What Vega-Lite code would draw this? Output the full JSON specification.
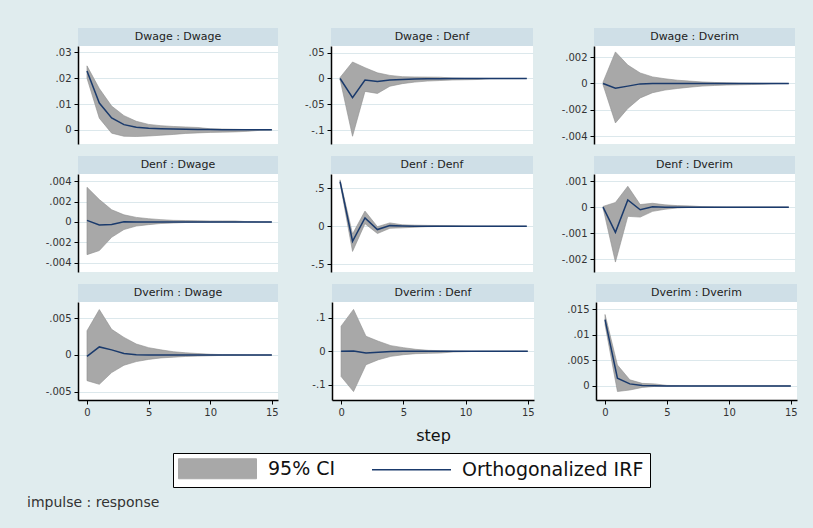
{
  "$schema": "https://vega.github.io/schema/vega-lite/v6.json",
  "background": "#e0ecee",
  "padding": {"left": 27, "top": 28, "right": 18, "bottom": 20},
  "title": {"text": "impulse : response", "orient": "bottom", "anchor": "start", "fontSize": 14, "font": "DejaVu Sans", "fontWeight": "normal", "color": "#333333", "offset": 8, "dx": -7},
  "data": {"values": [
    {"panel": 1, "step": 0, "irf": 0.0228, "lo": 0.0200, "hi": 0.0248},
    {"panel": 1, "step": 1, "irf": 0.0104, "lo": 0.0045, "hi": 0.0160},
    {"panel": 1, "step": 2, "irf": 0.0046, "lo": -0.0013, "hi": 0.0092},
    {"panel": 1, "step": 3, "irf": 0.0020, "lo": -0.0025, "hi": 0.0055},
    {"panel": 1, "step": 4, "irf": 0.0010, "lo": -0.0026, "hi": 0.0033},
    {"panel": 1, "step": 5, "irf": 0.0006, "lo": -0.0024, "hi": 0.0021},
    {"panel": 1, "step": 6, "irf": 0.0004, "lo": -0.0021, "hi": 0.0016},
    {"panel": 1, "step": 7, "irf": 0.0003, "lo": -0.0018, "hi": 0.0013},
    {"panel": 1, "step": 8, "irf": 0.0002, "lo": -0.0014, "hi": 0.0011},
    {"panel": 1, "step": 9, "irf": 0.0001, "lo": -0.0012, "hi": 0.0009},
    {"panel": 1, "step": 10, "irf": 0.0001, "lo": -0.0010, "hi": 0.0004},
    {"panel": 1, "step": 11, "irf": 0.00005, "lo": -0.0009, "hi": 0.0003},
    {"panel": 1, "step": 12, "irf": 0.00003, "lo": -0.0008, "hi": 0.0002},
    {"panel": 1, "step": 13, "irf": 0.00002, "lo": -0.0006, "hi": 0.0001},
    {"panel": 1, "step": 14, "irf": 0.00001, "lo": -0.0002, "hi": 0.0001},
    {"panel": 1, "step": 15, "irf": 0.00001, "lo": -0.0001, "hi": 0.00005},

    {"panel": 2, "step": 0, "irf": 0, "lo": -0.002, "hi": 0.002},
    {"panel": 2, "step": 1, "irf": -0.037, "lo": -0.112, "hi": 0.032},
    {"panel": 2, "step": 2, "irf": -0.003, "lo": -0.025, "hi": 0.021},
    {"panel": 2, "step": 3, "irf": -0.006, "lo": -0.029, "hi": 0.011},
    {"panel": 2, "step": 4, "irf": -0.003, "lo": -0.015, "hi": 0.006},
    {"panel": 2, "step": 5, "irf": -0.002, "lo": -0.010, "hi": 0.0035},
    {"panel": 2, "step": 6, "irf": -0.001, "lo": -0.007, "hi": 0.003},
    {"panel": 2, "step": 7, "irf": -0.0005, "lo": -0.005, "hi": 0.0027},
    {"panel": 2, "step": 8, "irf": -0.0003, "lo": -0.004, "hi": 0.0025},
    {"panel": 2, "step": 9, "irf": -0.0002, "lo": -0.003, "hi": 0.001},
    {"panel": 2, "step": 10, "irf": -0.0001, "lo": -0.0025, "hi": 0.0005},
    {"panel": 2, "step": 11, "irf": 0, "lo": -0.002, "hi": 0.0003},
    {"panel": 2, "step": 12, "irf": 0, "lo": -0.0005, "hi": 0.0002},
    {"panel": 2, "step": 13, "irf": 0, "lo": -0.0003, "hi": 0.0001},
    {"panel": 2, "step": 14, "irf": 0, "lo": -0.0002, "hi": 0.0001},
    {"panel": 2, "step": 15, "irf": 0, "lo": -0.0001, "hi": 0.0001},

    {"panel": 3, "step": 0, "irf": 0, "lo": -0.0001, "hi": 0.0001},
    {"panel": 3, "step": 1, "irf": -0.00036, "lo": -0.0030, "hi": 0.0024},
    {"panel": 3, "step": 2, "irf": -0.0002, "lo": -0.0019, "hi": 0.0014},
    {"panel": 3, "step": 3, "irf": -0.00003, "lo": -0.0011, "hi": 0.0008},
    {"panel": 3, "step": 4, "irf": 0, "lo": -0.0007, "hi": 0.0005},
    {"panel": 3, "step": 5, "irf": 0, "lo": -0.0005, "hi": 0.00036},
    {"panel": 3, "step": 6, "irf": 0, "lo": -0.00038, "hi": 0.00025},
    {"panel": 3, "step": 7, "irf": 0, "lo": -0.00028, "hi": 0.00018},
    {"panel": 3, "step": 8, "irf": 0, "lo": -0.0002, "hi": 0.00012},
    {"panel": 3, "step": 9, "irf": 0, "lo": -0.00015, "hi": 0.00008},
    {"panel": 3, "step": 10, "irf": 0, "lo": -0.00012, "hi": 0.00005},
    {"panel": 3, "step": 11, "irf": 0, "lo": -0.0001, "hi": 0.00003},
    {"panel": 3, "step": 12, "irf": 0, "lo": -0.00008, "hi": 0.00002},
    {"panel": 3, "step": 13, "irf": 0, "lo": -0.00005, "hi": 0.00001},
    {"panel": 3, "step": 14, "irf": 0, "lo": -0.00002, "hi": 0.00001},
    {"panel": 3, "step": 15, "irf": 0, "lo": -0.00001, "hi": 0},

    {"panel": 4, "step": 0, "irf": 0.00016, "lo": -0.0032, "hi": 0.0034},
    {"panel": 4, "step": 1, "irf": -0.0003, "lo": -0.0028, "hi": 0.0022},
    {"panel": 4, "step": 2, "irf": -0.00025, "lo": -0.0015, "hi": 0.0012},
    {"panel": 4, "step": 3, "irf": 0.00002, "lo": -0.00074, "hi": 0.0007},
    {"panel": 4, "step": 4, "irf": 0, "lo": -0.0004, "hi": 0.00045},
    {"panel": 4, "step": 5, "irf": 0, "lo": -0.00026, "hi": 0.00032},
    {"panel": 4, "step": 6, "irf": 0, "lo": -0.00015, "hi": 0.00023},
    {"panel": 4, "step": 7, "irf": 0, "lo": -0.0001, "hi": 0.00016},
    {"panel": 4, "step": 8, "irf": 0, "lo": -0.00005, "hi": 0.00014},
    {"panel": 4, "step": 9, "irf": 0, "lo": -0.00003, "hi": 0.00012},
    {"panel": 4, "step": 10, "irf": 0, "lo": -0.00002, "hi": 0.0001},
    {"panel": 4, "step": 11, "irf": 0, "lo": -0.00001, "hi": 0.0001},
    {"panel": 4, "step": 12, "irf": 0, "lo": 0, "hi": 0.0001},
    {"panel": 4, "step": 13, "irf": 0, "lo": 0, "hi": 0.00003},
    {"panel": 4, "step": 14, "irf": 0, "lo": 0, "hi": 0.00001},
    {"panel": 4, "step": 15, "irf": 0, "lo": 0, "hi": 0},

    {"panel": 5, "step": 0, "irf": 0.587, "lo": 0.565, "hi": 0.61},
    {"panel": 5, "step": 1, "irf": -0.196, "lo": -0.33, "hi": -0.10},
    {"panel": 5, "step": 2, "irf": 0.109, "lo": 0.035, "hi": 0.20},
    {"panel": 5, "step": 3, "irf": -0.043, "lo": -0.095, "hi": -0.005},
    {"panel": 5, "step": 4, "irf": 0.009, "lo": -0.026, "hi": 0.045},
    {"panel": 5, "step": 5, "irf": 0.004, "lo": -0.02, "hi": 0.02},
    {"panel": 5, "step": 6, "irf": 0.001, "lo": -0.012, "hi": 0.015},
    {"panel": 5, "step": 7, "irf": 0, "lo": -0.005, "hi": 0.012},
    {"panel": 5, "step": 8, "irf": 0, "lo": -0.002, "hi": 0.01},
    {"panel": 5, "step": 9, "irf": 0, "lo": -0.001, "hi": 0.008},
    {"panel": 5, "step": 10, "irf": 0, "lo": 0, "hi": 0.003},
    {"panel": 5, "step": 11, "irf": 0, "lo": 0, "hi": 0.001},
    {"panel": 5, "step": 12, "irf": 0, "lo": 0, "hi": 0.0005},
    {"panel": 5, "step": 13, "irf": 0, "lo": 0, "hi": 0.0002},
    {"panel": 5, "step": 14, "irf": 0, "lo": 0, "hi": 0.0001},
    {"panel": 5, "step": 15, "irf": 0, "lo": 0, "hi": 0},

    {"panel": 6, "step": 0, "irf": 0, "lo": -0.00003, "hi": 0.00003},
    {"panel": 6, "step": 1, "irf": -0.00096, "lo": -0.0021, "hi": 0.00018},
    {"panel": 6, "step": 2, "irf": 0.00028, "lo": -0.00035, "hi": 0.0008},
    {"panel": 6, "step": 3, "irf": -0.0001, "lo": -0.00038, "hi": 0.0001},
    {"panel": 6, "step": 4, "irf": 0.00002, "lo": -0.00016, "hi": 0.00015},
    {"panel": 6, "step": 5, "irf": 0, "lo": -0.00008, "hi": 0.00009},
    {"panel": 6, "step": 6, "irf": 0, "lo": -0.00003, "hi": 0.00006},
    {"panel": 6, "step": 7, "irf": 0, "lo": -0.00001, "hi": 0.00005},
    {"panel": 6, "step": 8, "irf": 0, "lo": 0, "hi": 0.00002},
    {"panel": 6, "step": 9, "irf": 0, "lo": 0, "hi": 0.00001},
    {"panel": 6, "step": 10, "irf": 0, "lo": 0, "hi": 0},
    {"panel": 6, "step": 11, "irf": 0, "lo": 0, "hi": 0},
    {"panel": 6, "step": 12, "irf": 0, "lo": 0, "hi": 0},
    {"panel": 6, "step": 13, "irf": 0, "lo": 0, "hi": 0},
    {"panel": 6, "step": 14, "irf": 0, "lo": 0, "hi": 0},
    {"panel": 6, "step": 15, "irf": 0, "lo": 0, "hi": 0},

    {"panel": 7, "step": 0, "irf": -0.0002, "lo": -0.0035, "hi": 0.0033},
    {"panel": 7, "step": 1, "irf": 0.0011, "lo": -0.0040, "hi": 0.0062},
    {"panel": 7, "step": 2, "irf": 0.0007, "lo": -0.0024, "hi": 0.0035},
    {"panel": 7, "step": 3, "irf": 0.0002, "lo": -0.0014, "hi": 0.0024},
    {"panel": 7, "step": 4, "irf": 0.00005, "lo": -0.0009, "hi": 0.0015},
    {"panel": 7, "step": 5, "irf": 0, "lo": -0.0006, "hi": 0.0010},
    {"panel": 7, "step": 6, "irf": 0, "lo": -0.0004, "hi": 0.0007},
    {"panel": 7, "step": 7, "irf": 0, "lo": -0.0003, "hi": 0.00045},
    {"panel": 7, "step": 8, "irf": 0, "lo": -0.0002, "hi": 0.0003},
    {"panel": 7, "step": 9, "irf": 0, "lo": -0.00015, "hi": 0.0002},
    {"panel": 7, "step": 10, "irf": 0, "lo": -0.0001, "hi": 0.0001},
    {"panel": 7, "step": 11, "irf": 0, "lo": -0.00005, "hi": 0.00005},
    {"panel": 7, "step": 12, "irf": 0, "lo": -0.00002, "hi": 0.00003},
    {"panel": 7, "step": 13, "irf": 0, "lo": -0.00001, "hi": 0.00001},
    {"panel": 7, "step": 14, "irf": 0, "lo": 0, "hi": 0},
    {"panel": 7, "step": 15, "irf": 0, "lo": 0, "hi": 0},

    {"panel": 8, "step": 0, "irf": 0, "lo": -0.075, "hi": 0.075},
    {"panel": 8, "step": 1, "irf": 0.001, "lo": -0.12, "hi": 0.125},
    {"panel": 8, "step": 2, "irf": -0.005, "lo": -0.04, "hi": 0.045},
    {"panel": 8, "step": 3, "irf": -0.003, "lo": -0.025, "hi": 0.03},
    {"panel": 8, "step": 4, "irf": -0.0005, "lo": -0.015, "hi": 0.017},
    {"panel": 8, "step": 5, "irf": 0, "lo": -0.010, "hi": 0.011},
    {"panel": 8, "step": 6, "irf": 0, "lo": -0.007, "hi": 0.006},
    {"panel": 8, "step": 7, "irf": 0, "lo": -0.006, "hi": 0.003},
    {"panel": 8, "step": 8, "irf": 0, "lo": -0.005, "hi": 0.002},
    {"panel": 8, "step": 9, "irf": 0, "lo": -0.002, "hi": 0.001},
    {"panel": 8, "step": 10, "irf": 0, "lo": -0.001, "hi": 0.0005},
    {"panel": 8, "step": 11, "irf": 0, "lo": 0, "hi": 0},
    {"panel": 8, "step": 12, "irf": 0, "lo": 0, "hi": 0},
    {"panel": 8, "step": 13, "irf": 0, "lo": 0, "hi": 0},
    {"panel": 8, "step": 14, "irf": 0, "lo": 0, "hi": 0},
    {"panel": 8, "step": 15, "irf": 0, "lo": 0, "hi": 0},

    {"panel": 9, "step": 0, "irf": 0.013, "lo": 0.012, "hi": 0.014},
    {"panel": 9, "step": 1, "irf": 0.0015, "lo": -0.0011, "hi": 0.0041},
    {"panel": 9, "step": 2, "irf": 0.0004, "lo": -0.0008, "hi": 0.0012},
    {"panel": 9, "step": 3, "irf": 0.0001, "lo": -0.0003, "hi": 0.0005},
    {"panel": 9, "step": 4, "irf": 0.00003, "lo": -0.0001, "hi": 0.0004},
    {"panel": 9, "step": 5, "irf": 0, "lo": -0.00005, "hi": 0.0001},
    {"panel": 9, "step": 6, "irf": 0, "lo": 0, "hi": 0.00005},
    {"panel": 9, "step": 7, "irf": 0, "lo": 0, "hi": 0},
    {"panel": 9, "step": 8, "irf": 0, "lo": 0, "hi": 0},
    {"panel": 9, "step": 9, "irf": 0, "lo": 0, "hi": 0},
    {"panel": 9, "step": 10, "irf": 0, "lo": 0, "hi": 0},
    {"panel": 9, "step": 11, "irf": 0, "lo": 0, "hi": 0},
    {"panel": 9, "step": 12, "irf": 0, "lo": 0, "hi": 0},
    {"panel": 9, "step": 13, "irf": 0, "lo": 0, "hi": 0},
    {"panel": 9, "step": 14, "irf": 0, "lo": 0, "hi": 0},
    {"panel": 9, "step": 15, "irf": 0, "lo": 0, "hi": 0}
  ]},
  "spacing": 12,
  "vconcat": [
    {"spacing": 20, "hconcat": [
      {"spacing": 0, "bounds": "flush", "vconcat": [
        {"width": 200, "height": 18, "view": {"fill": "#cfdfe7", "stroke": null}, "data": {"values": [{"label": "Dwage : Dwage"}]}, "mark": {"type": "text", "fontSize": 11, "font": "DejaVu Sans", "color": "#222222"}, "encoding": {"text": {"field": "label"}}},
        {"width": 200, "height": 98, "transform": [{"filter": "datum.panel === 1"}],
         "encoding": {"x": {"field": "step", "type": "quantitative", "scale": {"domain": [-0.73, 15.5], "nice": false, "zero": false}, "axis": null}},
         "layer": [
          {"mark": {"type": "area", "opacity": 1, "stroke": "#8f8f8f", "strokeWidth": 0.6},
           "encoding": {"y": {"field": "lo", "type": "quantitative", "scale": {"domain": [-0.0055, 0.0325], "nice": false, "zero": false}, "axis": {"values": [0, 0.01, 0.02, 0.03], "title": null, "minExtent": 44, "maxExtent": 44, "labelExpr": "replace(replace(format(datum.value, '~g'), '−', '-'), '0.', '.')"}}, "y2": {"field": "hi"},
            "color": {"datum": "95% CI", "scale": {"domain": ["95% CI", "Orthogonalized IRF"], "range": ["#a8a8a8", "#1a3a6c"]},
              "legend": {"title": null, "orient": "none", "legendX": 95, "legendY": 425, "direction": "horizontal", "symbolSize": 400,
                "symbolType": {"expr": "datum.value === '95% CI' ? 'M-3.9,-1H3.9V1H-3.9Z' : 'M-3.95,0H3.95'"},
                "symbolStrokeColor": {"expr": "datum.value === '95% CI' ? '#999999' : '#1a3a6c'"},
                "symbolStrokeWidth": {"expr": "datum.value === '95% CI' ? 1 : 1.5"},
                "symbolOffset": 29, "labelOffset": 41, "labelFontSize": 19, "labelFont": "DejaVu Sans", "labelColor": "#111111", "labelLimit": 400, "columnPadding": 33, "padding": 6, "fillColor": "white", "strokeColor": "black", "symbolOpacity": 1}}}},
          {"mark": {"type": "line", "strokeWidth": 1.5},
           "encoding": {"y": {"field": "irf", "type": "quantitative", "scale": {"domain": [-0.0055, 0.0325], "nice": false, "zero": false}, "axis": {"values": [0, 0.01, 0.02, 0.03], "title": null, "minExtent": 44, "maxExtent": 44, "labelExpr": "replace(replace(format(datum.value, '~g'), '−', '-'), '0.', '.')"}}, "color": {"datum": "Orthogonalized IRF"}}}
         ]}
      ]},
      {"spacing": 0, "bounds": "flush", "vconcat": [
        {"width": 202, "height": 18, "view": {"fill": "#cfdfe7", "stroke": null}, "data": {"values": [{"label": "Dwage : Denf"}]}, "mark": {"type": "text", "fontSize": 11, "font": "DejaVu Sans", "color": "#222222"}, "encoding": {"text": {"field": "label"}}},
        {"width": 202, "height": 98, "transform": [{"filter": "datum.panel === 2"}],
         "encoding": {"x": {"field": "step", "type": "quantitative", "scale": {"domain": [-0.73, 15.5], "nice": false, "zero": false}, "axis": null}},
         "layer": [
          {"mark": {"type": "area", "opacity": 1, "stroke": "#8f8f8f", "strokeWidth": 0.6},
           "encoding": {"y": {"field": "lo", "type": "quantitative", "scale": {"domain": [-0.127, 0.063], "nice": false, "zero": false}, "axis": {"values": [-0.1, -0.05, 0, 0.05], "title": null, "minExtent": 33, "maxExtent": 33, "labelExpr": "replace(replace(format(datum.value, '~g'), '−', '-'), '0.', '.')"}}, "y2": {"field": "hi"}, "color": {"datum": "95% CI"}}},
          {"mark": {"type": "line", "strokeWidth": 1.5},
           "encoding": {"y": {"field": "irf", "type": "quantitative", "scale": {"domain": [-0.127, 0.063], "nice": false, "zero": false}, "axis": {"values": [-0.1, -0.05, 0, 0.05], "title": null, "minExtent": 33, "maxExtent": 33, "labelExpr": "replace(replace(format(datum.value, '~g'), '−', '-'), '0.', '.')"}}, "color": {"datum": "Orthogonalized IRF"}}}
         ]}
      ]},
      {"spacing": 0, "bounds": "flush", "vconcat": [
        {"width": 201, "height": 18, "view": {"fill": "#cfdfe7", "stroke": null}, "data": {"values": [{"label": "Dwage : Dverim"}]}, "mark": {"type": "text", "fontSize": 11, "font": "DejaVu Sans", "color": "#222222"}, "encoding": {"text": {"field": "label"}}},
        {"width": 201, "height": 98, "transform": [{"filter": "datum.panel === 3"}],
         "encoding": {"x": {"field": "step", "type": "quantitative", "scale": {"domain": [-0.73, 15.5], "nice": false, "zero": false}, "axis": null}},
         "layer": [
          {"mark": {"type": "area", "opacity": 1, "stroke": "#8f8f8f", "strokeWidth": 0.6},
           "encoding": {"y": {"field": "lo", "type": "quantitative", "scale": {"domain": [-0.0046, 0.00285], "nice": false, "zero": false}, "axis": {"values": [-0.004, -0.002, 0, 0.002], "title": null, "minExtent": 41, "maxExtent": 41, "labelExpr": "replace(replace(format(datum.value, '~g'), '−', '-'), '0.', '.')"}}, "y2": {"field": "hi"}, "color": {"datum": "95% CI"}}},
          {"mark": {"type": "line", "strokeWidth": 1.5},
           "encoding": {"y": {"field": "irf", "type": "quantitative", "scale": {"domain": [-0.0046, 0.00285], "nice": false, "zero": false}, "axis": {"values": [-0.004, -0.002, 0, 0.002], "title": null, "minExtent": 41, "maxExtent": 41, "labelExpr": "replace(replace(format(datum.value, '~g'), '−', '-'), '0.', '.')"}}, "color": {"datum": "Orthogonalized IRF"}}}
         ]}
      ]}
    ]},
    {"spacing": 20, "hconcat": [
      {"spacing": 0, "bounds": "flush", "vconcat": [
        {"width": 200, "height": 18, "view": {"fill": "#cfdfe7", "stroke": null}, "data": {"values": [{"label": "Denf : Dwage"}]}, "mark": {"type": "text", "fontSize": 11, "font": "DejaVu Sans", "color": "#222222"}, "encoding": {"text": {"field": "label"}}},
        {"width": 200, "height": 98, "transform": [{"filter": "datum.panel === 4"}],
         "encoding": {"x": {"field": "step", "type": "quantitative", "scale": {"domain": [-0.73, 15.5], "nice": false, "zero": false}, "axis": null}},
         "layer": [
          {"mark": {"type": "area", "opacity": 1, "stroke": "#8f8f8f", "strokeWidth": 0.6},
           "encoding": {"y": {"field": "lo", "type": "quantitative", "scale": {"domain": [-0.0049, 0.0047], "nice": false, "zero": false}, "axis": {"values": [-0.004, -0.002, 0, 0.002, 0.004], "title": null, "minExtent": 44, "maxExtent": 44, "labelExpr": "replace(replace(format(datum.value, '~g'), '−', '-'), '0.', '.')"}}, "y2": {"field": "hi"}, "color": {"datum": "95% CI"}}},
          {"mark": {"type": "line", "strokeWidth": 1.5},
           "encoding": {"y": {"field": "irf", "type": "quantitative", "scale": {"domain": [-0.0049, 0.0047], "nice": false, "zero": false}, "axis": {"values": [-0.004, -0.002, 0, 0.002, 0.004], "title": null, "minExtent": 44, "maxExtent": 44, "labelExpr": "replace(replace(format(datum.value, '~g'), '−', '-'), '0.', '.')"}}, "color": {"datum": "Orthogonalized IRF"}}}
         ]}
      ]},
      {"spacing": 0, "bounds": "flush", "vconcat": [
        {"width": 202, "height": 18, "view": {"fill": "#cfdfe7", "stroke": null}, "data": {"values": [{"label": "Denf : Denf"}]}, "mark": {"type": "text", "fontSize": 11, "font": "DejaVu Sans", "color": "#222222"}, "encoding": {"text": {"field": "label"}}},
        {"width": 202, "height": 98, "transform": [{"filter": "datum.panel === 5"}],
         "encoding": {"x": {"field": "step", "type": "quantitative", "scale": {"domain": [-0.73, 15.5], "nice": false, "zero": false}, "axis": null}},
         "layer": [
          {"mark": {"type": "area", "opacity": 1, "stroke": "#8f8f8f", "strokeWidth": 0.6},
           "encoding": {"y": {"field": "lo", "type": "quantitative", "scale": {"domain": [-0.6, 0.687], "nice": false, "zero": false}, "axis": {"values": [-0.5, 0, 0.5], "title": null, "minExtent": 33, "maxExtent": 33, "labelExpr": "replace(replace(format(datum.value, '~g'), '−', '-'), '0.', '.')"}}, "y2": {"field": "hi"}, "color": {"datum": "95% CI"}}},
          {"mark": {"type": "line", "strokeWidth": 1.5},
           "encoding": {"y": {"field": "irf", "type": "quantitative", "scale": {"domain": [-0.6, 0.687], "nice": false, "zero": false}, "axis": {"values": [-0.5, 0, 0.5], "title": null, "minExtent": 33, "maxExtent": 33, "labelExpr": "replace(replace(format(datum.value, '~g'), '−', '-'), '0.', '.')"}}, "color": {"datum": "Orthogonalized IRF"}}}
         ]}
      ]},
      {"spacing": 0, "bounds": "flush", "vconcat": [
        {"width": 201, "height": 18, "view": {"fill": "#cfdfe7", "stroke": null}, "data": {"values": [{"label": "Denf : Dverim"}]}, "mark": {"type": "text", "fontSize": 11, "font": "DejaVu Sans", "color": "#222222"}, "encoding": {"text": {"field": "label"}}},
        {"width": 201, "height": 98, "transform": [{"filter": "datum.panel === 6"}],
         "encoding": {"x": {"field": "step", "type": "quantitative", "scale": {"domain": [-0.73, 15.5], "nice": false, "zero": false}, "axis": null}},
         "layer": [
          {"mark": {"type": "area", "opacity": 1, "stroke": "#8f8f8f", "strokeWidth": 0.6},
           "encoding": {"y": {"field": "lo", "type": "quantitative", "scale": {"domain": [-0.00248, 0.00127], "nice": false, "zero": false}, "axis": {"values": [-0.002, -0.001, 0, 0.001], "title": null, "minExtent": 41, "maxExtent": 41, "labelExpr": "replace(replace(format(datum.value, '~g'), '−', '-'), '0.', '.')"}}, "y2": {"field": "hi"}, "color": {"datum": "95% CI"}}},
          {"mark": {"type": "line", "strokeWidth": 1.5},
           "encoding": {"y": {"field": "irf", "type": "quantitative", "scale": {"domain": [-0.00248, 0.00127], "nice": false, "zero": false}, "axis": {"values": [-0.002, -0.001, 0, 0.001], "title": null, "minExtent": 41, "maxExtent": 41, "labelExpr": "replace(replace(format(datum.value, '~g'), '−', '-'), '0.', '.')"}}, "color": {"datum": "Orthogonalized IRF"}}}
         ]}
      ]}
    ]},
    {"spacing": 20, "hconcat": [
      {"spacing": 0, "bounds": "flush", "vconcat": [
        {"width": 200, "height": 18, "view": {"fill": "#cfdfe7", "stroke": null}, "data": {"values": [{"label": "Dverim : Dwage"}]}, "mark": {"type": "text", "fontSize": 11, "font": "DejaVu Sans", "color": "#222222"}, "encoding": {"text": {"field": "label"}}},
        {"width": 200, "height": 98, "transform": [{"filter": "datum.panel === 7"}],
         "encoding": {"x": {"field": "step", "type": "quantitative", "scale": {"domain": [-0.73, 15.5], "nice": false, "zero": false}, "axis": {"values": [0, 5, 10, 15], "title": null, "grid": false, "labelFlush": false}}},
         "layer": [
          {"mark": {"type": "area", "opacity": 1, "stroke": "#8f8f8f", "strokeWidth": 0.6},
           "encoding": {"y": {"field": "lo", "type": "quantitative", "scale": {"domain": [-0.00614, 0.00723], "nice": false, "zero": false}, "axis": {"values": [-0.005, 0, 0.005], "title": null, "minExtent": 44, "maxExtent": 44, "labelExpr": "replace(replace(format(datum.value, '~g'), '−', '-'), '0.', '.')"}}, "y2": {"field": "hi"}, "color": {"datum": "95% CI"}}},
          {"mark": {"type": "line", "strokeWidth": 1.5},
           "encoding": {"y": {"field": "irf", "type": "quantitative", "scale": {"domain": [-0.00614, 0.00723], "nice": false, "zero": false}, "axis": {"values": [-0.005, 0, 0.005], "title": null, "minExtent": 44, "maxExtent": 44, "labelExpr": "replace(replace(format(datum.value, '~g'), '−', '-'), '0.', '.')"}}, "color": {"datum": "Orthogonalized IRF"}}}
         ]}
      ]},
      {"spacing": 0, "bounds": "flush", "vconcat": [
        {"width": 202, "height": 18, "view": {"fill": "#cfdfe7", "stroke": null}, "data": {"values": [{"label": "Dverim : Denf"}]}, "mark": {"type": "text", "fontSize": 11, "font": "DejaVu Sans", "color": "#222222"}, "encoding": {"text": {"field": "label"}}},
        {"width": 202, "height": 98, "transform": [{"filter": "datum.panel === 8"}],
         "encoding": {"x": {"field": "step", "type": "quantitative", "scale": {"domain": [-0.73, 15.5], "nice": false, "zero": false}, "axis": {"values": [0, 5, 10, 15], "title": "step", "grid": false, "labelFlush": false, "titleFontSize": 16, "titleFontWeight": "normal", "titleFont": "DejaVu Sans", "titleColor": "#111111", "titlePadding": 10}}},
         "layer": [
          {"mark": {"type": "area", "opacity": 1, "stroke": "#8f8f8f", "strokeWidth": 0.6},
           "encoding": {"y": {"field": "lo", "type": "quantitative", "scale": {"domain": [-0.145, 0.147], "nice": false, "zero": false}, "axis": {"values": [-0.1, 0, 0.1], "title": null, "minExtent": 33, "maxExtent": 33, "labelExpr": "replace(replace(format(datum.value, '~g'), '−', '-'), '0.', '.')"}}, "y2": {"field": "hi"}, "color": {"datum": "95% CI"}}},
          {"mark": {"type": "line", "strokeWidth": 1.5},
           "encoding": {"y": {"field": "irf", "type": "quantitative", "scale": {"domain": [-0.145, 0.147], "nice": false, "zero": false}, "axis": {"values": [-0.1, 0, 0.1], "title": null, "minExtent": 33, "maxExtent": 33, "labelExpr": "replace(replace(format(datum.value, '~g'), '−', '-'), '0.', '.')"}}, "color": {"datum": "Orthogonalized IRF"}}}
         ]}
      ]},
      {"spacing": 0, "bounds": "flush", "vconcat": [
        {"width": 201, "height": 18, "view": {"fill": "#cfdfe7", "stroke": null}, "data": {"values": [{"label": "Dverim : Dverim"}]}, "mark": {"type": "text", "fontSize": 11, "font": "DejaVu Sans", "color": "#222222"}, "encoding": {"text": {"field": "label"}}},
        {"width": 201, "height": 98, "transform": [{"filter": "datum.panel === 9"}],
         "encoding": {"x": {"field": "step", "type": "quantitative", "scale": {"domain": [-0.73, 15.5], "nice": false, "zero": false}, "axis": {"values": [0, 5, 10, 15], "title": null, "grid": false, "labelFlush": false}}},
         "layer": [
          {"mark": {"type": "area", "opacity": 1, "stroke": "#8f8f8f", "strokeWidth": 0.6},
           "encoding": {"y": {"field": "lo", "type": "quantitative", "scale": {"domain": [-0.00276, 0.01645], "nice": false, "zero": false}, "axis": {"values": [0, 0.005, 0.01, 0.015], "title": null, "minExtent": 41, "maxExtent": 41, "labelExpr": "replace(replace(format(datum.value, '~g'), '−', '-'), '0.', '.')"}}, "y2": {"field": "hi"}, "color": {"datum": "95% CI"}}},
          {"mark": {"type": "line", "strokeWidth": 1.5},
           "encoding": {"y": {"field": "irf", "type": "quantitative", "scale": {"domain": [-0.00276, 0.01645], "nice": false, "zero": false}, "axis": {"values": [0, 0.005, 0.01, 0.015], "title": null, "minExtent": 41, "maxExtent": 41, "labelExpr": "replace(replace(format(datum.value, '~g'), '−', '-'), '0.', '.')"}}, "color": {"datum": "Orthogonalized IRF"}}}
         ]}
      ]}
    ]}
  ],
  "config": {
    "view": {"stroke": null, "fill": "white"},
    "font": "DejaVu Sans",
    "axis": {"domainColor": "black", "tickColor": "black", "labelColor": "#333333", "labelFontSize": 10, "labelFont": "DejaVu Sans", "tickSize": 4, "domainWidth": 1.5, "tickWidth": 1, "gridColor": "#dce8ec", "gridWidth": 1, "labelPadding": 3},
    "axisY": {"grid": true},
    "axisX": {"grid": false}
  }
}
